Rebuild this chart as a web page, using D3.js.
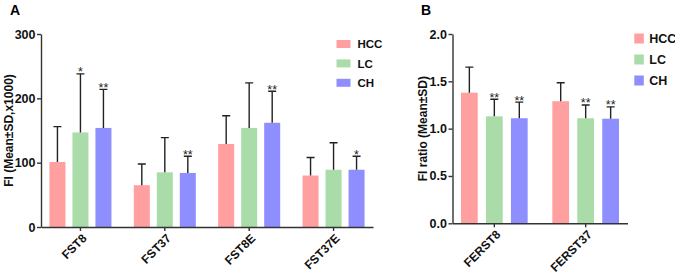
<!DOCTYPE html>
<html>
<head>
<meta charset="utf-8">
<script src="https://cdn.jsdelivr.net/npm/d3@7"></script>
<style>
  body { margin: 0; background: #fff; }
  svg { display: block; font-family: "Liberation Sans", Arial, sans-serif; }
  .axis path, .axis line { stroke: #333; stroke-width: 1.4; }
  .axis text { font-weight: bold; fill: #111; }
</style>
</head>
<body>
<div id="chart"></div>
<script>
// series
const seriesNames = ["HCC", "LC", "CH"];
const colors = ["#ff9f9f", "#a9dca9", "#8e8eff"];

// panel A
const groupsA = ["FST8", "FST37", "FST8E", "FST37E"];
const hccA = [101, 65, 129, 80];
const hccSdA = [55, 33, 44, 28];
const lcA = [147, 85, 154, 89];
const lcSdA = [91, 54, 70, 42];
const chA = [154, 84, 162, 89];
const chSdA = [60, 26, 49, 21];
const starsA = [["", "", "", ""], ["*", "", "", ""], ["**", "**", "**", "*"]];
const ticksA = [0, 100, 200, 300];

// panel B
const groupsB = ["FERST8", "FERST37"];
const hccB = [1.38, 1.29];
const hccSdB = [0.27, 0.195];
const lcB = [1.13, 1.11];
const lcSdB = [0.18, 0.14];
const chB = [1.11, 1.105];
const chSdB = [0.17, 0.125];
const starsB = [["", ""], ["**", "**"], ["**", "**"]];
const ticksB = [0, 0.5, 1.0, 1.5, 2.0];

const svg = d3.select("#chart").append("svg")
  .attr("width", 675)
  .attr("height", 273);

// 畫一個面板
function drawPanel(p) {
  const rows = p.groups.map((g, i) => ({
    group: g,
    bars: seriesNames.map((s, j) => ({
      name: s, color: colors[j],
      value: p.values[j][i], sd: p.sds[j][i], star: p.stars[j][i]
    }))
  }));

  const x0 = d3.scaleBand().domain(p.groups).range([p.left, p.right])
    .paddingInner(p.padInner).paddingOuter(p.padOuter);
  const x1 = d3.scaleBand().domain(seriesNames).range([0, x0.bandwidth()])
    .paddingInner(p.barPad);
  const y = d3.scaleLinear().domain(p.domain).range([p.bottom, p.top]);

  const g = svg.append("g");

  // bars
  const grp = g.selectAll(".grp").data(rows).enter().append("g")
    .attr("transform", d => `translate(${x0(d.group)},0)`);

  grp.selectAll("rect").data(d => d.bars).enter().append("rect")
    .attr("x", d => x1(d.name))
    .attr("y", d => y(d.value))
    .attr("width", x1.bandwidth())
    .attr("height", d => y(0) - y(d.value))
    .attr("fill", d => d.color);

  // error bars
  grp.selectAll(".err").data(d => d.bars).enter().append("path")
    .attr("d", d => {
      const cx = x1(d.name) + x1.bandwidth() / 2;
      const top = y(d.value + d.sd);
      return `M${cx},${y(d.value)}V${top}M${cx - 4},${top}H${cx + 4}`;
    })
    .attr("stroke", "#222")
    .attr("stroke-width", 1.4)
    .attr("fill", "none");

  // stars
  grp.selectAll(".star").data(d => d.bars).enter().append("text")
    .attr("x", d => x1(d.name) + x1.bandwidth() / 2)
    .attr("y", d => y(d.value + d.sd) + 2.5)
    .attr("text-anchor", "middle")
    .attr("font-size", 12.5)
    .attr("fill", "#222")
    .text(d => d.star);

  // y axis
  g.append("g").attr("class", "axis")
    .attr("transform", `translate(${p.left},0)`)
    .call(d3.axisLeft(y).tickValues(p.ticks).tickFormat(p.fmt)
      .tickSize(4).tickPadding(1.5).tickSizeOuter(0))
    .selectAll("text").attr("font-size", 12.5);

  // x axis, tick at middle bar, labels drawn separately
  g.append("g").attr("class", "axis")
    .attr("transform", `translate(0,${p.bottom})`)
    .call(d3.axisBottom(x0).tickSize(4).tickSizeOuter(0).tickFormat(""));

  g.selectAll(".xlab").data(p.groups).enter().append("text")
    .attr("transform", d => `translate(${x0(d) + x0.bandwidth() / 2 + 4},${p.bottom + 9}) rotate(-45)`)
    .attr("dy", "0.35em")
    .attr("text-anchor", "end")
    .attr("font-size", 12)
    .attr("font-weight", "bold")
    .attr("fill", "#111")
    .text(d => d);

  // y label
  g.append("text")
    .attr("transform", `translate(${p.labelX},${(p.top + p.bottom) / 2}) rotate(-90)`)
    .attr("text-anchor", "middle")
    .attr("font-size", 12)
    .attr("font-weight", "bold")
    .attr("fill", "#111")
    .text(p.yLabel);

  // panel letter
  g.append("text")
    .attr("x", p.letterX).attr("y", 15)
    .attr("font-size", 14).attr("font-weight", "bold")
    .text(p.letter);

  // legend
  const lg = g.selectAll(".lg").data(seriesNames).enter().append("g")
    .attr("transform", (d, i) => `translate(${p.legX},${p.legY + i * p.legStep})`);
  lg.append("rect")
    .attr("width", p.legW).attr("height", p.legH)
    .attr("fill", (d, i) => colors[i]);
  lg.append("text")
    .attr("x", p.legTextX)
    .attr("y", p.legH / 2)
    .attr("dy", "0.36em")
    .attr("font-size", p.legFont)
    .attr("font-weight", "bold")
    .attr("fill", "#111")
    .text(d => d);
}

drawPanel({
  groups: groupsA,
  values: [hccA, lcA, chA], sds: [hccSdA, lcSdA, chSdA], stars: starsA,
  left: 41, right: 373, top: 34, bottom: 227,
  padInner: 0.265, padOuter: 0.1, barPad: 0.304,
  domain: [0, 300], ticks: ticksA, fmt: d3.format("d"),
  yLabel: "FI (Mean±SD,x1000)", labelX: 13,
  letter: "A", letterX: 10,
  legX: 336.5, legY: 40, legStep: 19.4, legW: 14, legH: 8, legTextX: 21, legFont: 11.5
});

drawPanel({
  groups: groupsB,
  values: [hccB, lcB, chB], sds: [hccSdB, lcSdB, chSdB], stars: starsB,
  left: 452.5, right: 627.5, top: 34, bottom: 223.3,
  padInner: 0.27, padOuter: 0.093, barPad: 0.33,
  domain: [0, 2], ticks: ticksB, fmt: d3.format(".1f"),
  yLabel: "FI ratio (Mean±SD)", labelX: 427,
  letter: "B", letterX: 421,
  legX: 634.3, legY: 33.5, legStep: 21, legW: 9.5, legH: 10, legTextX: 15, legFont: 12.5
});
</script>
</body>
</html>
